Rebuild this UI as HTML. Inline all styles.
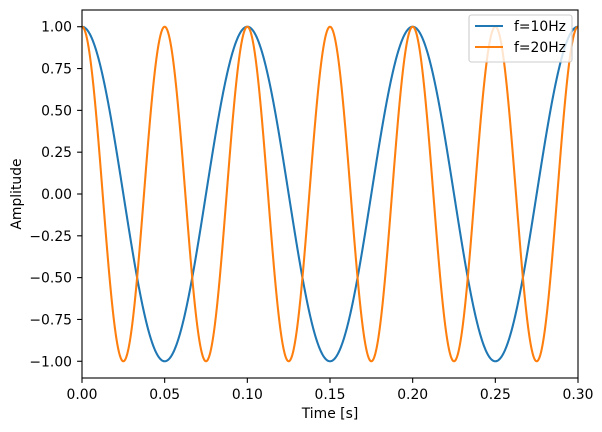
<!DOCTYPE html>
<html><head><meta charset="utf-8"><style>
html,body{margin:0;padding:0;background:#fff;}
svg{display:block;font-family:"DejaVu Sans","Liberation Sans",sans-serif;}
</style></head><body>
<svg id="chart" width="602" height="432" viewBox="0 0 602 432" xmlns="http://www.w3.org/2000/svg">
<rect x="0" y="0" width="602" height="432" fill="#fff"/>
<g id="plot"></g>
<g id="axes"></g>
</svg>
<script>
const seriesNames = ["f=10Hz", "f=20Hz"];
const seriesFreqHz = [10, 20];
const seriesColors = ["#1f77b4", "#ff7f0e"];
const timeRange = [0, 0.3];
const xTicks = [0, 0.05, 0.10, 0.15, 0.20, 0.25, 0.30];
const xTickLabels = ["0.00","0.05","0.10","0.15","0.20","0.25","0.30"];
const yTicks = [1, 0.75, 0.5, 0.25, 0, -0.25, -0.5, -0.75, -1];
const yTickLabels = ["1.00","0.75","0.50","0.25","0.00","\u22120.25","\u22120.50","\u22120.75","\u22121.00"];

const L=82,R=578,T=10,B=378;
const xMin=0,xMax=0.3,yMin=-1.1,yMax=1.1;
const FS=13.9;
const sx=v=>L+(v-xMin)/(xMax-xMin)*(R-L);
const sy=v=>B-(v-yMin)/(yMax-yMin)*(B-T);
const NS="http://www.w3.org/2000/svg";
const plot=document.getElementById('plot'), axes=document.getElementById('axes');
function mk(tag,attrs,parent){const e=document.createElementNS(NS,tag);for(const k in attrs)e.setAttribute(k,attrs[k]);parent.appendChild(e);return e;}

const clip=mk('clipPath',{id:'clp'},plot);
mk('rect',{x:L,y:T,width:R-L,height:B-T},clip);
seriesFreqHz.forEach((f,i)=>{
  const n=1000;let d='';
  for(let k=0;k<=n;k++){const t=timeRange[0]+(timeRange[1]-timeRange[0])*k/n;
    const v=Math.cos(2*Math.PI*f*t);
    d+=(k?'L':'M')+sx(t).toFixed(2)+' '+sy(v).toFixed(2);}
  const p=mk('path',{d:d,fill:'none',stroke:seriesColors[i],'stroke-width':2.08,'stroke-linejoin':'round','clip-path':'url(#clp)'},plot);
  
  
});

const frame=mk('rect',{x:L,y:T,width:R-L,height:B-T,fill:'none',stroke:'#000','stroke-width':1.1},axes);


xTicks.forEach((v,i)=>{
  const x=sx(v);
  const tk=mk('line',{x1:x,x2:x,y1:B,y2:B+4.9,stroke:'#000','stroke-width':1.1},axes);
  
  
  const tx=mk('text',{x:x,y:B+21,'font-size':FS,'text-anchor':'middle',fill:'#000'},axes);
  tx.textContent=xTickLabels[i];
  
  
});
yTicks.forEach((v,i)=>{
  const y=sy(v);
  const tk=mk('line',{x1:L-4.9,x2:L,y1:y,y2:y,stroke:'#000','stroke-width':1.1},axes);
  
  
  const tx=mk('text',{x:L-10,y:y+5,'font-size':FS,'text-anchor':'end',fill:'#000'},axes);
  tx.textContent=yTickLabels[i];
  
  
});
const xl=mk('text',{x:(L+R)/2,y:418,'font-size':FS,'text-anchor':'middle',fill:'#000'},axes);
xl.textContent='Time [s]';


const yl=mk('text',{x:0,y:0,'font-size':FS,'text-anchor':'middle',fill:'#000',transform:'translate(21,'+((T+B)/2)+') rotate(-90)'},axes);
yl.textContent='Amplitude';



const lg=mk('g',{},axes);


mk('rect',{x:469,y:15,width:103,height:47,rx:2.5,fill:'#fff','fill-opacity':0.8,stroke:'#ccc','stroke-width':1.1},lg);
seriesNames.forEach((nm,i)=>{
  const y=26+i*21;
  const ln=mk('line',{x1:475,x2:503,y1:y,y2:y,stroke:seriesColors[i],'stroke-width':2.08},lg);
  
  
  const t=mk('text',{x:514,y:y+5,'font-size':FS,fill:'#000'},lg);
  t.textContent=nm;
  
  
});
</script>
</body></html>
